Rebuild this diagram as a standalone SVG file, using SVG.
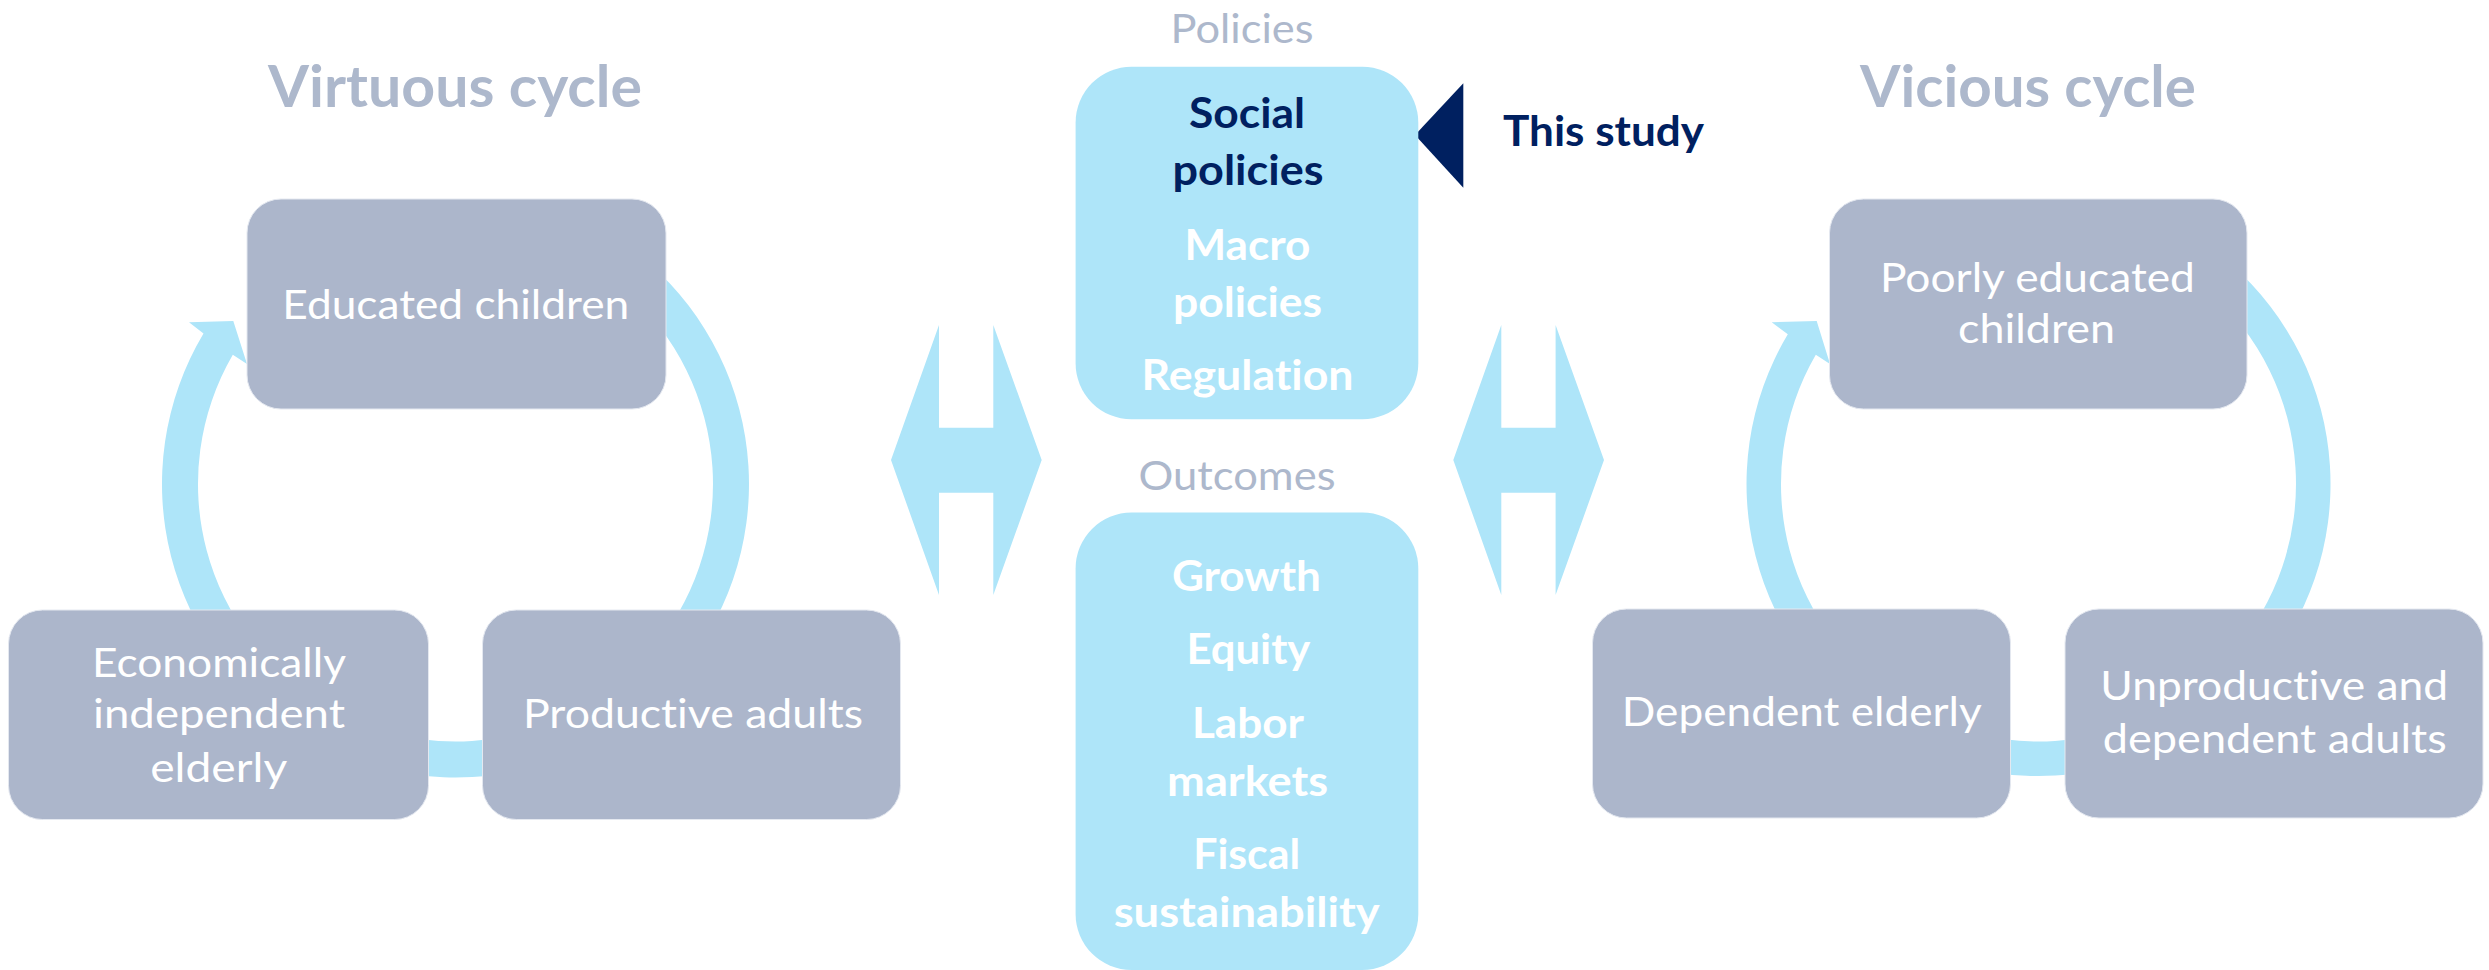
<svg xmlns="http://www.w3.org/2000/svg" width="2489" height="970" viewBox="0 0 2489 970">
<style>
text{font-variant-ligatures:none}
.ring{fill:#AEE5F9}
.box{fill:#ACB6CB;stroke:#E4E8F0;stroke-width:1}
.cbox{fill:#AEE5F9}
.nt{font-family:Lato,"Open Sans",sans-serif;font-size:41px;fill:#FFFFFF;text-anchor:middle}
.ct{font-family:Lato,"Open Sans",sans-serif;font-size:42px;font-weight:bold;fill:#FFFFFF;text-anchor:middle}
.navy{fill:#002060}
.title{font-family:Lato,"Open Sans",sans-serif;font-size:57px;font-weight:bold;fill:#ADB8CC;text-anchor:middle}
.sub{font-family:Lato,"Open Sans",sans-serif;font-size:40px;fill:#ADB8CC;text-anchor:middle}
</style>
<rect width="2489" height="970" fill="#FFFFFF"/>
<g id="connectors">
  <path class="ring" d="M602.25,229.8 A293.5,293.5 0 1 1 203.5,333.5 L189,322.3 L233.3,321 L247,364 L232.8,354.7 A257.5,257.5 0 1 0 584.25,261 Z"/>
  <path class="ring" d="M2184.5,231.1 A292,292 0 1 1 1787.8,334.3 L1771.7,322.3 L1816.7,321 L1830,364 L1815.8,354.7 A257.5,257.5 0 1 0 2167.25,261 Z"/>
  <polygon class="ring" points="891,460 939,325 939,427.7 993.3,427.7 993.3,325 1041.7,460 993.3,595 993.3,492.7 939,492.7 939,595"/>
  <polygon class="ring" points="1453.3,460 1501.3,325 1501.3,427.7 1555.6,427.7 1555.6,325 1604,460 1555.6,595 1555.6,492.7 1501.3,492.7 1501.3,595"/>
  <polygon class="navy" points="1415,135 1463.3,83.3 1463.3,187.7"/>
</g>
<g id="title-virtuous"><text class="title" x="455" y="107" textLength="374" lengthAdjust="spacingAndGlyphs">Virtuous cycle</text></g>
<g id="title-vicious"><text class="title" x="2028" y="107" textLength="336" lengthAdjust="spacingAndGlyphs">Vicious cycle</text></g>
<g id="educated-children">
  <rect class="box" x="247" y="199" width="419" height="210" rx="34"/>
  <text class="nt" x="455.8" y="319" textLength="347" lengthAdjust="spacingAndGlyphs">Educated children</text>
</g>
<g id="econ-elderly">
  <rect class="box" x="8.5" y="610" width="420" height="209.5" rx="34"/>
  <text class="nt" x="219" y="676.7" textLength="254" lengthAdjust="spacingAndGlyphs">Economically</text>
  <text class="nt" x="219" y="728.3" textLength="252" lengthAdjust="spacingAndGlyphs">independent</text>
  <text class="nt" x="218.7" y="781.7" textLength="137" lengthAdjust="spacingAndGlyphs">elderly</text>
</g>
<g id="productive-adults">
  <rect class="box" x="482.5" y="610" width="418" height="209.5" rx="34"/>
  <text class="nt" x="693" y="728.3" textLength="340" lengthAdjust="spacingAndGlyphs">Productive adults</text>
</g>
<g id="poorly-educated">
  <rect class="box" x="1829.5" y="199" width="417.5" height="210" rx="34"/>
  <text class="nt" x="2037.4" y="291.7" textLength="315" lengthAdjust="spacingAndGlyphs">Poorly educated</text>
  <text class="nt" x="2036.5" y="343.3" textLength="157" lengthAdjust="spacingAndGlyphs">children</text>
</g>
<g id="dependent-elderly">
  <rect class="box" x="1592.5" y="609" width="418" height="209" rx="34"/>
  <text class="nt" x="1801.8" y="726" textLength="360" lengthAdjust="spacingAndGlyphs">Dependent elderly</text>
</g>
<g id="unproductive-adults">
  <rect class="box" x="2065" y="609" width="418" height="209" rx="34"/>
  <text class="nt" x="2274.2" y="700" textLength="348" lengthAdjust="spacingAndGlyphs">Unproductive and</text>
  <text class="nt" x="2274.8" y="753.3" textLength="344" lengthAdjust="spacingAndGlyphs">dependent adults</text>
</g>
<g id="policies">
  <text class="sub" x="1242" y="43.3" textLength="143" lengthAdjust="spacingAndGlyphs">Policies</text>
  <rect class="cbox" x="1075.6" y="66.7" width="342.7" height="352.6" rx="56"/>
  <text class="ct navy" x="1247" y="128.3" textLength="116" lengthAdjust="spacingAndGlyphs">Social</text>
  <text class="ct navy" x="1248" y="185" textLength="151" lengthAdjust="spacingAndGlyphs">policies</text>
  <text class="ct" x="1247.4" y="260" textLength="126" lengthAdjust="spacingAndGlyphs">Macro</text>
  <text class="ct" x="1247.5" y="316.7" textLength="149" lengthAdjust="spacingAndGlyphs">policies</text>
  <text class="ct" x="1247.5" y="390" textLength="212" lengthAdjust="spacingAndGlyphs">Regulation</text>
</g>
<g id="this-study">
  <text class="ct navy" x="1603.5" y="146" textLength="201" lengthAdjust="spacingAndGlyphs">This study</text>
</g>
<g id="outcomes">
  <text class="sub" x="1237" y="490" textLength="197" lengthAdjust="spacingAndGlyphs">Outcomes</text>
  <rect class="cbox" x="1075.6" y="512.5" width="342.7" height="457.5" rx="56"/>
  <text class="ct" x="1246.4" y="591" textLength="149" lengthAdjust="spacingAndGlyphs">Growth</text>
  <text class="ct" x="1248.4" y="664.3" textLength="124" lengthAdjust="spacingAndGlyphs">Equity</text>
  <text class="ct" x="1247.9" y="738.3" textLength="112" lengthAdjust="spacingAndGlyphs">Labor</text>
  <text class="ct" x="1247.6" y="795.7" textLength="161" lengthAdjust="spacingAndGlyphs">markets</text>
  <text class="ct" x="1246.7" y="869.3" textLength="107" lengthAdjust="spacingAndGlyphs">Fiscal</text>
  <text class="ct" x="1246.7" y="926.7" textLength="266" lengthAdjust="spacingAndGlyphs">sustainability</text>
</g>
</svg>
